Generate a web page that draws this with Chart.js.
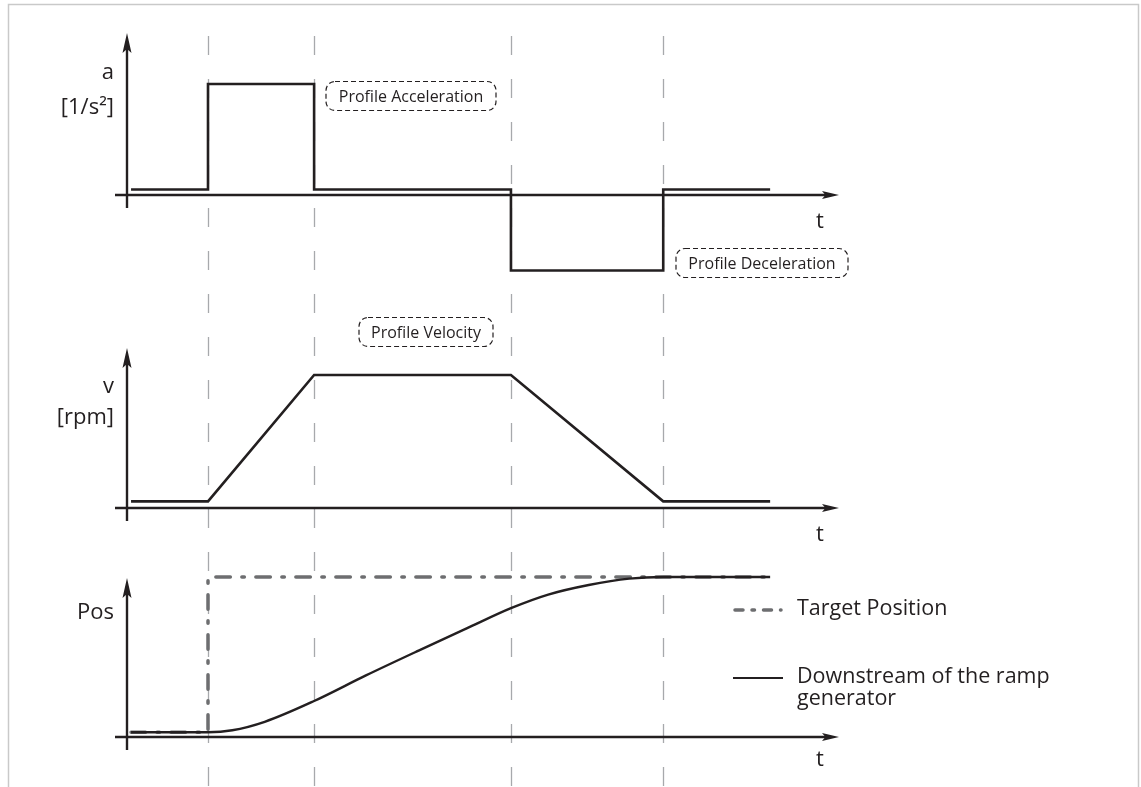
<!DOCTYPE html>
<html>
<head>
  <meta charset="utf-8" />
  <title>Profile Position Mode</title>
  <script src="https://cdn.jsdelivr.net/npm/chart.js"></script>
  <style>
    html, body {
      margin: 0;
      padding: 0;
      background: #fff;
    }
    .wrap {
      position: relative;
      width: 1141px;
      height: 787px;
    }
  </style>
</head>
<body>
  <div class="wrap"><canvas id="chart" width="1141" height="787"></canvas></div>

  <script>
    // --- data (common time base for all three panels) ---
    const accelTimes  = [0.05, 1, 1, 2.31, 2.31, 4.74, 4.74, 6.62, 6.62, 7.94];
    const accelValues = [0.05, 0.05, 1, 1, 0.05, 0.05, -0.68, -0.68, 0.05, 0.05];

    const velTimes  = [0.05, 1, 2.31, 4.74, 6.62, 7.94];
    const velValues = [0.05, 0.05, 1, 1, 0.05, 0.05];

    const targetTimes  = [0.05, 1, 1, 7.94];
    const targetValues = [0.03, 0.03, 1, 1];

    const rampTimes  = [0.05, 1, 1.3, 1.7, 2.31, 2.95, 3.6, 4.2, 4.74, 5.2, 5.7, 6.2, 6.62, 7.94];
    const rampValues = [0.03, 0.03, 0.042, 0.095, 0.225, 0.385, 0.54, 0.68, 0.805, 0.89, 0.95, 0.99, 1, 1];

    const eventTimes = [1, 2.31, 4.74, 6.62];

    const axisNames = [['a', '[1/s²]'], ['v', '[rpm]'], ['Pos']];
    const timeLabel = 't';
    const noteLabels = ['Profile Acceleration', 'Profile Velocity', 'Profile Deceleration'];
    const legendLabels = ['Target Position', 'Downstream of the ramp generator'];

    // --- layout (pixels) ---
    const W = 1141, H = 787;
    const X0 = 127, KX = 81;          // pixel of t=0, pixels per time unit
    const panels = [
      { id: 'yA', zero: 195, unit: 111, tip: 33 },
      { id: 'yV', zero: 508, unit: 133, tip: 348 },
      { id: 'yP', zero: 737, unit: 160, tip: 578 }
    ];

    const INK = '#231f20';
    const GREY = '#6d6e70';
    const FONT = '"Open Sans", sans-serif';

    const pts = (xs, ys) => xs.map((x, i) => ({ x: x, y: ys[i] }));

    const scales = {
      x: { type: 'linear', display: false, min: -X0 / KX, max: (W - X0) / KX }
    };
    panels.forEach(p => {
      scales[p.id] = { type: 'linear', display: false, min: (p.zero - H) / p.unit, max: p.zero / p.unit };
    });

    function arrow(ctx, x1, y1, x2, y2, len, half) {
      const a = Math.atan2(y2 - y1, x2 - x1);
      const c = Math.cos(a), s = Math.sin(a);
      ctx.beginPath();
      ctx.moveTo(x1, y1);
      ctx.lineTo(x2 - c * len * 0.7, y2 - s * len * 0.7);
      ctx.stroke();
      ctx.beginPath();
      ctx.moveTo(x2, y2);
      ctx.lineTo(x2 - c * len + s * half, y2 - s * len - c * half);
      ctx.lineTo(x2 - c * len * 0.8, y2 - s * len * 0.8);
      ctx.lineTo(x2 - c * len - s * half, y2 - s * len + c * half);
      ctx.closePath();
      ctx.fill();
    }

    // frame, dashed event lines and axes behind the curves
    const backdrop = {
      id: 'backdrop',
      beforeDatasetsDraw(chart) {
        const ctx = chart.ctx;
        const xs = chart.scales.x;
        ctx.save();

        ctx.strokeStyle = '#c9c9c9';
        ctx.lineWidth = 1.5;
        ctx.strokeRect(8.5, 4.5, 1130, 800);

        ctx.strokeStyle = '#a7a9ac';
        ctx.lineWidth = 1.3;
        ctx.setLineDash([19, 24]);
        eventTimes.forEach(t => {
          const x = Math.round(xs.getPixelForValue(t)) + 0.5;
          ctx.beginPath();
          ctx.moveTo(x, 36);
          ctx.lineTo(x, H);
          ctx.stroke();
        });
        ctx.setLineDash([]);

        ctx.strokeStyle = INK;
        ctx.fillStyle = INK;
        ctx.lineWidth = 2.4;
        panels.forEach(p => {
          const ys = chart.scales[p.id];
          const y0 = ys.getPixelForValue(0);
          const x0 = xs.getPixelForValue(0);
          arrow(ctx, 115, y0, 839, y0, 17, 4);
          arrow(ctx, x0, y0 + 13, x0, p.tip, 20, 4.5);
        });
        ctx.restore();
      },
      afterDatasetsDraw(chart) {
        const ctx = chart.ctx;
        ctx.save();
        ctx.fillStyle = INK;
        ctx.textBaseline = 'middle';

        // axis names
        ctx.font = '22px ' + FONT;
        ctx.textAlign = 'right';
        const namePos = [[73, 108], [387, 418], [613]];
        axisNames.forEach((lines, i) => {
          lines.forEach((txt, j) => ctx.fillText(txt, 114, namePos[i][j]));
        });
        ctx.textAlign = 'center';
        [222, 535, 760].forEach(y => ctx.fillText(timeLabel, 820, y));

        // dashed note boxes
        const boxes = [[411, 96, 170, 29], [426, 332, 134, 29], [762, 263, 172, 29]];
        ctx.font = '16px ' + FONT;
        noteLabels.forEach((txt, i) => {
          const [cx, cy, w, h] = boxes[i];
          ctx.strokeStyle = INK;
          ctx.lineWidth = 1.2;
          ctx.setLineDash([5, 3]);
          ctx.beginPath();
          ctx.roundRect(cx - w / 2, cy - h / 2, w, h, 9);
          ctx.stroke();
          ctx.setLineDash([]);
          ctx.fillText(txt, cx, cy + 1);
        });

        // legend
        const ds = chart.data.datasets;
        ctx.textAlign = 'left';
        ctx.font = '21.5px ' + FONT;
        ctx.lineCap = 'round';
        ctx.strokeStyle = ds[3].borderColor;
        ctx.lineWidth = ds[3].borderWidth;
        ctx.setLineDash([8, 9, 2.5, 9]);
        ctx.beginPath();
        ctx.moveTo(735, 610);
        ctx.lineTo(781, 610);
        ctx.stroke();
        ctx.setLineDash([]);
        ctx.lineCap = 'butt';
        ctx.fillText(legendLabels[0], 797, 609);

        ctx.strokeStyle = ds[2].borderColor;
        ctx.lineWidth = 2;
        ctx.beginPath();
        ctx.moveTo(733, 678);
        ctx.lineTo(783, 678);
        ctx.stroke();
        ctx.fillText('Downstream of the ramp', 797, 677);
        ctx.fillText('generator', 797, 699);

        ctx.restore();
      }
    };

    new Chart(document.getElementById('chart'), {
      type: 'line',
      data: {
        datasets: [
          {
            label: 'Acceleration',
            data: pts(accelTimes, accelValues),
            yAxisID: 'yA',
            borderColor: INK,
            borderWidth: 2.6,
            pointRadius: 0
          },
          {
            label: 'Velocity',
            data: pts(velTimes, velValues),
            yAxisID: 'yV',
            borderColor: INK,
            borderWidth: 2.6,
            pointRadius: 0
          },
          {
            label: legendLabels[1],
            data: pts(rampTimes, rampValues),
            yAxisID: 'yP',
            borderColor: INK,
            borderWidth: 2.4,
            pointRadius: 0,
            cubicInterpolationMode: 'monotone'
          },
          {
            label: legendLabels[0],
            data: pts(targetTimes, targetValues),
            yAxisID: 'yP',
            borderColor: GREY,
            borderWidth: 3.5,
            borderDash: [14.5, 11.5, 2.5, 11.5],
            borderCapStyle: 'round',
            pointRadius: 0
          }
        ]
      },
      options: {
        responsive: false,
        animation: false,
        layout: { padding: 0 },
        scales: scales,
        plugins: {
          legend: { display: false },
          tooltip: { enabled: false }
        }
      },
      plugins: [backdrop]
    });
  </script>
</body>
</html>
